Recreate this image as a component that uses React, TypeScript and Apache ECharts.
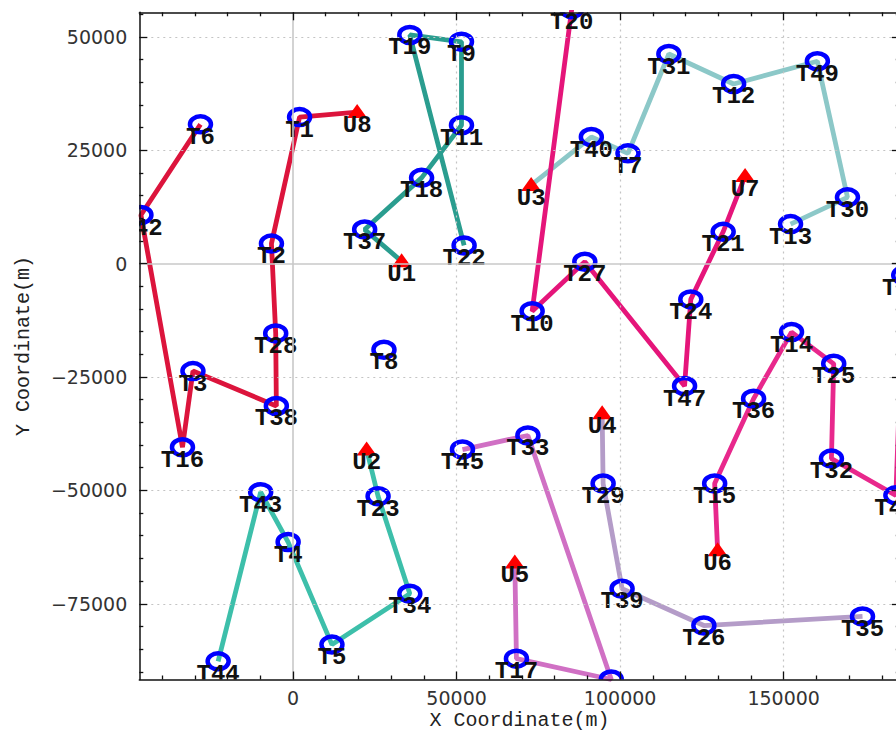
import React, { useEffect, useRef } from "react";
import * as echarts from "echarts";

// ---- data (metres) ----
const targetNames = ["T1","T2","T3","T4","T5","T6","T7","T8","T9","T10","T11","T12","T13","T14","T15","T16","T17","T18","T19","T20","T21","T22","T23","T24","T25","T26","T27","T28","T29","T30","T31","T32","T33","T34","T35","T36","T37","T38","T39","T40","T41","T42","T43","T44","T45","T46","T47","T48","T49"];
const targetX = [2000,-6600,-30600,-1500,11900,-28300,102400,27800,51500,73100,51500,134700,152100,152400,128900,-33800,68300,39300,35700,85200,131500,52300,26000,121600,165300,125600,89200,-5300,94800,169500,114900,164600,71800,35700,174100,140800,21900,-5100,100600,91200,186700,-46500,-9900,-22900,51800,184300,119700,97300,160300];
const targetY = [32300,4400,-23700,-61400,-84000,30700,24300,-19000,48900,-10500,30500,39600,8700,-15100,-48500,-40500,-87100,18900,50400,56100,7000,4000,-51300,-7900,-22100,-79800,400,-15400,-48500,14600,46200,-43000,-37900,-72800,-77800,-29800,7500,-31400,-71700,27900,-2600,10700,-50400,-87700,-41000,-51100,-27000,-91700,44600];

const baseNames = ["U1","U2","U3","U4","U5","U6","U7","U8"];
const baseX = [33200,22500,72800,94500,67800,129800,138200,19600];
const baseY = [500,-41000,17300,-33000,-65900,-63200,19300,33400];

const routeA = ["U8","T1","T2","T28","T38","T3","T16","T42","T6"];
const routeB = ["U1","T37","T18","T11","T9","T19","T22"];
const routeC = ["U2","T23","T34","T5","T4","T43","T44"];
const routeD = ["U3","T40","T7","T31","T12","T49","T30","T13"];
const routeE = ["T20","T10","T27","T47","T24","T21","U7"];
const routeF = ["U6","T15","T36","T14","T25","T32","T46","T41"];
const routeG = ["U5","T17","T48","T33","T45"];
const routeH = ["U4","T29","T39","T26","T35"];
const routes = [routeA, routeB, routeC, routeD, routeE, routeF, routeG, routeH];
const routeColors = ["#dc143c","#2a9d8f","#3dbfaa","#8cc8c8","#e5157a","#e8288c","#d070c4","#b49cc8"];

const xMin = -47000, xMax = 185500;
const yMin = -91700, yMax = 55400;
const xMajor = [0, 50000, 100000, 150000];
const xMinor = [-40000,-30000,-20000,-10000,10000,20000,30000,40000,60000,70000,80000,90000,110000,120000,130000,140000,160000,170000,180000];
const yMajor = [-75000,-50000,-25000,0,25000,50000];
const yMinor = [-90000,-85000,-80000,-70000,-65000,-60000,-55000,-45000,-40000,-35000,-30000,-20000,-15000,-10000,-5000,5000,10000,15000,20000,30000,35000,40000,45000,55000];
const xGrid = [50000, 100000, 150000];
const yGrid = [-75000, -50000, -25000, 25000, 50000];

export default function App() {
  const ref = useRef<HTMLDivElement>(null);
  useEffect(() => {
    if (!ref.current) return;
    const chart = echarts.init(ref.current, null, { renderer: "svg" });

    const allNames = [...targetNames, ...baseNames];
    const allX = [...targetX, ...baseX];
    const allY = [...targetY, ...baseY];
    const lookup: Record<string, [number, number]> = {};
    allNames.forEach((n, i) => (lookup[n] = [allX[i], allY[i]]));

    const fmt = (v: number) => (v < 0 ? "\u2212" + Math.abs(v) : String(v));
    const tickStyle = { color: "#111", width: 1.3 };

    const axisBase = (min: number, max: number, extra: any) => ({
      type: "value",
      min,
      max,
      axisLine: { show: false, onZero: false },
      axisTick: { show: false },
      axisLabel: { show: false },
      splitLine: { show: false },
      z: 5,
      ...extra,
    });

    const lineSeries = routes.map((r, i) => ({
      type: "line",
      data: r.map((n) => lookup[n]),
      symbol: "none",
      clip: true,
      z: 3,
      lineStyle: { color: routeColors[i], width: 4.8 },
      silent: true,
    }));

    const gridLineStyle = { color: "#c4c4c4", type: [2, 4], width: 1.2 };
    const zeroStyle = { color: "#c8c8c8", type: "solid", width: 1.6 };

    const option: any = {
      animation: false,
      backgroundColor: "#ffffff",
      grid: { left: 139.3, right: -3.8, top: 12.3, bottom: 51.5, outerBoundsMode: "none", containLabel: false },
      xAxis: [
        axisBase(xMin, xMax, {
          position: "bottom",
          axisLine: { show: true, onZero: false, lineStyle: { color: "#111", width: 1.5 } },
          axisTick: { show: true, inside: true, length: 8, customValues: xMajor, lineStyle: tickStyle },
          axisLabel: {
            show: true, customValues: xMajor, formatter: fmt, margin: 9,
            fontFamily: "DejaVu Sans", fontSize: 19, color: "#333",
          },
          name: "X Coordinate(m)",
          nameLocation: "middle",
          nameGap: 30.5,
          nameMoveOverlap: false,
          nameTextStyle: { fontFamily: "Liberation Mono", fontSize: 20, color: "#222" },
        }),
        axisBase(xMin, xMax, {
          position: "bottom",
          axisTick: { show: true, inside: true, length: 4, customValues: xMinor, lineStyle: tickStyle },
        }),
        axisBase(xMin, xMax, {
          position: "top",
          axisLine: { show: true, onZero: false, lineStyle: { color: "#111", width: 1.5 } },
          axisTick: { show: true, inside: true, length: 8, customValues: xMajor, lineStyle: tickStyle },
        }),
        axisBase(xMin, xMax, {
          position: "top",
          axisTick: { show: true, inside: true, length: 4, customValues: xMinor, lineStyle: tickStyle },
        }),
      ],
      yAxis: [
        axisBase(yMin, yMax, {
          position: "left",
          axisLine: { show: true, onZero: false, lineStyle: { color: "#111", width: 1.5 } },
          axisTick: { show: true, inside: true, length: 8, customValues: yMajor, lineStyle: tickStyle },
          axisLabel: {
            show: true, customValues: yMajor, formatter: fmt, margin: 12,
            fontFamily: "DejaVu Sans", fontSize: 19, color: "#333",
          },
          name: "Y Coordinate(m)",
          nameLocation: "middle",
          nameGap: 106,
          nameMoveOverlap: false,
          nameTextStyle: { fontFamily: "Liberation Mono", fontSize: 20, color: "#222" },
        }),
        axisBase(yMin, yMax, {
          position: "left",
          axisTick: { show: true, inside: true, length: 4, customValues: yMinor, lineStyle: tickStyle },
        }),
        axisBase(yMin, yMax, {
          position: "right",
          axisLine: { show: true, onZero: false, lineStyle: { color: "#111", width: 1.5 } },
          axisTick: { show: true, inside: true, length: 8, customValues: yMajor, lineStyle: tickStyle },
        }),
        axisBase(yMin, yMax, {
          position: "right",
          axisTick: { show: true, inside: true, length: 4, customValues: yMinor, lineStyle: tickStyle },
        }),
      ],
      series: [
        {
          type: "line",
          data: [],
          symbol: "none",
          z: 1,
          silent: true,
          markLine: {
            silent: true,
            symbol: ["none", "none"],
            label: { show: false },
            emphasis: { disabled: true },
            data: [
              ...xGrid.map((v) => ({ xAxis: v, lineStyle: gridLineStyle })),
              ...yGrid.map((v) => ({ yAxis: v, lineStyle: gridLineStyle })),
              { xAxis: 0, lineStyle: zeroStyle },
              { yAxis: 0, lineStyle: zeroStyle },
            ],
          },
        },
        ...lineSeries,
        {
          type: "custom",
          clip: true,
          z: 4,
          silent: true,
          data: allNames.map((n, i) => [allX[i], allY[i]]),
          encode: { x: 0, y: 1 },
          renderItem: (params: any, api: any) => {
            const i = params.dataIndex;
            const p = api.coord([api.value(0), api.value(1)]);
            const cs = params.coordSys;
            const name = allNames[i];
            const isBase = name.charAt(0) === "U";
            const mark = isBase
              ? {
                  type: "polygon",
                  shape: { points: [[p[0], p[1] - 8], [p[0] + 10, p[1] + 6], [p[0] - 10, p[1] + 6]] },
                  style: { fill: "#ff0000" },
                }
              : {
                  type: "ellipse",
                  shape: { cx: p[0], cy: p[1], rx: 10.5, ry: 8 },
                  style: { fill: "none", stroke: "#0000ff", lineWidth: 4.5 },
                };
            const ly = p[1] + 13;
            const children: any[] = [mark];
            if (ly < cs.y + cs.height) {
              children.push({
                type: "text",
                x: p[0],
                y: ly,
                style: {
                  text: name,
                  font: 'bold 24px "Liberation Mono"',
                  fill: "#111",
                  align: "center",
                  verticalAlign: "middle",
                },
              });
            }
            return { type: "group", children };
          },
        },
      ],
    };
    chart.setOption(option);
    return () => chart.dispose();
  }, []);
  return (
    <div
      ref={ref}
      style={{ position: "fixed", left: 0, top: 0, width: 896, height: 731, background: "#fff" }}
    />
  );
}
